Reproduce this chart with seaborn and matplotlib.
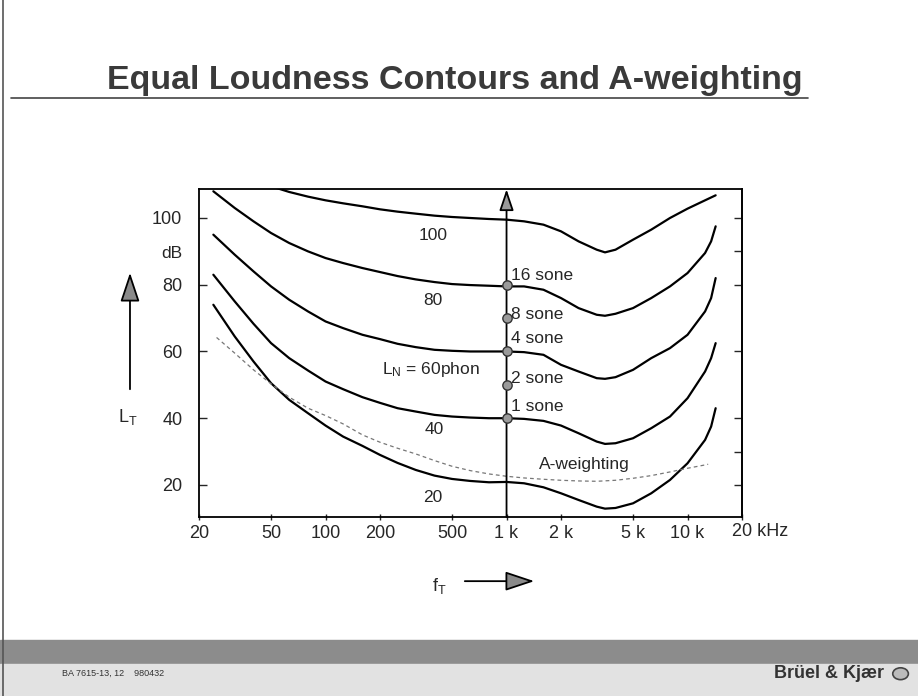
import numpy as np
import pandas as pd
import matplotlib
matplotlib.use('Agg')
import matplotlib.pyplot as plt
import seaborn as sns
from matplotlib.patches import Rectangle, FancyArrowPatch, Circle
from matplotlib.lines import Line2D
from matplotlib.ticker import NullLocator

freqs = [24, 31.5, 40, 50, 63, 80, 100, 125, 160, 200, 250, 315, 400, 500, 630,
         800, 1000, 1250, 1600, 2000, 2500, 3150, 3500, 4000, 5000, 6300, 8000,
         10000, 12500, 13500, 14300]

# sound pressure level (dB) of each equal loudness contour
phon20 = [74, 64.5, 57, 50.5, 45.5, 41.5, 37.8, 34.5, 31.7, 29, 26.6, 24.5, 22.8,
          21.8, 21.2, 20.8, 20.9, 20.5, 19.3, 17.5, 15.5, 13.5, 12.9, 13.1, 14.5,
          17.5, 21.5, 26.5, 33.5, 37.5, 43]
phon40 = [83, 75, 68.3, 62.5, 58, 54.3, 51, 48.7, 46.3, 44.6, 43, 42, 41, 40.5,
          40.2, 40, 40, 39.8, 39.2, 37.8, 35.5, 33, 32.3, 32.5, 34, 37, 40.5, 46,
          54, 58, 62.5]
phon60 = [95, 89, 84, 79.5, 75.5, 72, 69, 67, 65, 63.7, 62.3, 61.3, 60.5, 60.2,
          60, 60, 60, 59.8, 59, 56, 54, 52, 51.8, 52.3, 54.5, 58, 61, 65, 72, 76, 82]
phon80 = [108, 103, 99, 95.5, 92.5, 90, 88, 86.5, 85, 83.8, 82.6, 81.6, 80.8,
          80.2, 79.9, 79.7, 79.5, 79.5, 78.5, 76, 73, 71, 70.7, 71.3, 73, 76, 79.5,
          83.5, 89.5, 93, 97.5]

# the 100 phon curve starts above the plot, so it has its own frequencies
freqs100 = [50, 63, 80, 100, 125, 160, 200, 250, 315, 400, 500, 630, 800, 1000,
            1250, 1600, 2000, 2500, 3150, 3500, 4000, 5000, 6300, 8000, 10000,
            12500, 14300]
phon100 = [109.5, 107.8, 106.4, 105.3, 104.4, 103.5, 102.6, 101.9, 101.3, 100.7,
           100.3, 100, 99.7, 99.5, 99, 98, 96, 93, 90.5, 89.7, 90.5, 93.5, 96.5,
           100, 102.8, 105.3, 106.8]

# A-weighting (dashed)
a_freqs = [25, 31.5, 40, 50, 63, 80, 100, 125, 160, 200, 250, 315, 400, 500, 630,
           800, 1000, 1250, 1600, 2000, 2500, 3150, 4000, 5000, 6300, 8000, 10000,
           12500, 13000]
a_levels = [64.2, 59.5, 54.5, 50.3, 46.3, 43, 40.8, 38.3, 35, 32.8, 31, 29.3,
            27.3, 25.6, 24.3, 23.3, 22.6, 22.1, 21.7, 21.4, 21.2, 21.1, 21.4, 22,
            22.8, 23.9, 25, 26, 26.2]

# loudness in sone at 1 kHz
sone_levels = [40, 50, 60, 70, 80]
sone_labels = ['1 sone', '2 sone', '4 sone', '8 sone', '16 sone']

xtick_vals = [20, 50, 100, 200, 500, 1000, 2000, 5000, 10000, 20000]
xtick_labels = ['20', '50', '100', '200', '500', '1 k', '2 k', '5 k', '10 k', '']
ytick_vals = [20, 40, 60, 80, 100]

# ---------------------------------------------------------------
sns.set_style('white')
plt.rcParams['font.family'] = ['Liberation Sans', 'DejaVu Sans']
plt.rcParams['mathtext.fontset'] = 'custom'
plt.rcParams['mathtext.rm'] = 'Liberation Sans'
plt.rcParams['mathtext.it'] = 'Liberation Sans'

fig = plt.figure(figsize=(9.18, 6.96), dpi=100)
ax = fig.add_axes([0.2168, 0.2572, 0.5915, 0.4713])
ax.set_xscale('log')

contours = pd.concat([
    pd.DataFrame({'freq': freqs, 'level': phon20, 'phon': 20}),
    pd.DataFrame({'freq': freqs, 'level': phon40, 'phon': 40}),
    pd.DataFrame({'freq': freqs, 'level': phon60, 'phon': 60}),
    pd.DataFrame({'freq': freqs, 'level': phon80, 'phon': 80}),
    pd.DataFrame({'freq': freqs100, 'level': phon100, 'phon': 100}),
], ignore_index=True)

sns.lineplot(data=contours, x='freq', y='level', units='phon', estimator=None,
             color='black', lw=1.6, ax=ax)
sns.lineplot(x=a_freqs, y=a_levels, color='#777777', lw=0.9,
             linestyle=(0, (3, 2.5)), ax=ax)

# 1 kHz line with arrow
ax.annotate('', xy=(1000, 108.6), xytext=(1000, 10.4),
            arrowprops=dict(arrowstyle='-|>,head_length=0.65,head_width=0.22',
                            mutation_scale=20, lw=1.3, color='black', fc='#9a9a9a',
                            shrinkA=0, shrinkB=0))
sns.scatterplot(x=[1000] * len(sone_levels), y=sone_levels, s=45, color='#9a9a9a',
                edgecolor='#333333', linewidth=1, zorder=5, ax=ax)
sone_y = [43.5, 51.9, 64.0, 71.0, 82.9]
for lab, yy in zip(sone_labels, sone_y):
    ax.text(1060, yy, lab, fontsize=12.5, ha='left', va='center')

# curve labels
ax.text(392, 94.9, '100', fontsize=12.5, ha='center', va='center')
ax.text(392, 75.4, '80', fontsize=12.5, ha='center', va='center')
ax.text(205, 54.5, r'L$_{\mathrm{N}}$ = 60phon', fontsize=12.5, ha='left', va='center')
ax.text(400, 36.5, '40', fontsize=12.5, ha='center', va='center')
ax.text(392, 16.1, '20', fontsize=12.5, ha='center', va='center')
ax.text(1518, 26.0, 'A-weighting', fontsize=12.5, ha='left', va='center')

ax.set_xlim(20, 20000)
ax.set_ylim(10.4, 108.7)
ax.set_xticks(xtick_vals)
ax.set_xticklabels(xtick_labels)
ax.xaxis.set_minor_locator(NullLocator())
ax.set_yticks(ytick_vals)
ax.set_yticklabels([str(v) for v in ytick_vals])
ax.set_xlabel('')
ax.set_ylabel('')
ax.tick_params(axis='x', bottom=True, top=False, direction='inout', length=5,
               width=1, pad=3, labelsize=13)
ax.tick_params(axis='y', left=True, right=False, direction='in', length=6,
               width=1, pad=12, labelsize=13)
for sp in ax.spines.values():
    sp.set_color('black')
    sp.set_linewidth(1.3)

# ticks on the right edge
ax2 = ax.secondary_yaxis('right')
ax2.set_yticks([20, 30, 40, 60, 80, 90, 100])
ax2.tick_params(direction='in', length=6, width=1, labelright=False)
ax2.spines['right'].set_linewidth(1.3)

# 20 kHz label
ax.annotate('20 kHz', xy=(20000, 0), xycoords=('data', 'axes fraction'),
            xytext=(-7, -4.5), textcoords='offset points', ha='left', va='top',
            fontsize=13)
ax.annotate('dB', xy=(0, 89.5), xycoords=('axes fraction', 'data'),
            xytext=(-12, 0), textcoords='offset points', ha='right', va='center',
            fontsize=12.5)

# axis names with arrows
fig.text(0.1394, 0.4009, r'L$_{\mathrm{T}}$', fontsize=13, ha='center', va='center')
fig.patches.append(FancyArrowPatch((0.1416, 0.4368), (0.1416, 0.6121),
                                   transform=fig.transFigure,
                                   arrowstyle='-|>,head_length=0.9,head_width=0.3',
                                   mutation_scale=20, lw=1.3, color='black',
                                   fc='#8a8a8a'))
fig.text(0.478, 0.158, r'f$_{\mathrm{T}}$', fontsize=13, ha='center', va='center')
fig.patches.append(FancyArrowPatch((0.5033, 0.165), (0.585, 0.165),
                                   transform=fig.transFigure,
                                   arrowstyle='-|>,head_length=0.9,head_width=0.3',
                                   mutation_scale=20, lw=1.3, color='black',
                                   fc='#8a8a8a'))

# title
fig.text(0.117, 0.884, 'Equal Loudness Contours and A-weighting', fontsize=24.5,
         fontweight='bold', color='#3a3a3a', ha='left', va='center')
fig.lines.append(Line2D([0.012, 0.88], [0.859, 0.859], transform=fig.transFigure,
                        color='#444444', lw=1.2))

# footer band
fig.patches.append(Rectangle((0, 0.046), 1, 0.035, transform=fig.transFigure,
                             color='#8c8c8c', zorder=0))
fig.patches.append(Rectangle((0, 0), 1, 0.046, transform=fig.transFigure,
                             color='#e2e2e2', zorder=0))
fig.text(0.068, 0.032, 'BA 7615-13, 12    980432', fontsize=6.5, color='#333333',
         ha='left', va='center')
fig.text(0.963, 0.032, 'Brüel & Kjær', fontsize=13, fontweight='bold',
         color='#333333', ha='right', va='center')
fig.patches.append(Circle((0.981, 0.032), 0.0085, transform=fig.transFigure,
                          fc='#bbbbbb', ec='#444444', lw=1.2))
fig.lines.append(Line2D([0.003, 0.003], [0, 1], transform=fig.transFigure,
                        color='#555555', lw=1.2))

fig.savefig('out.png', dpi=100)
